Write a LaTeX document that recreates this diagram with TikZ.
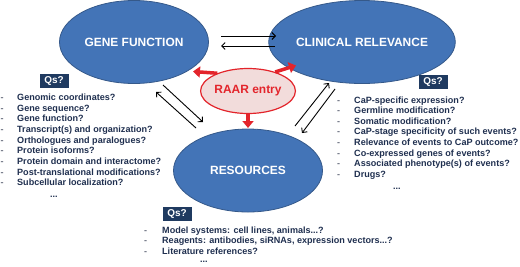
\documentclass[tikz,border=0pt]{standalone}
\usepackage{fontspec}
\setmainfont{Liberation Sans}
\usetikzlibrary{arrows.meta,shapes.geometric}
\definecolor{ellblue}{HTML}{4374B7}
\definecolor{ellborder}{HTML}{35598A}
\definecolor{qnavy}{HTML}{1F3A60}
\definecolor{listtxt}{HTML}{1F2F4F}
\definecolor{dashgray}{HTML}{6A7080}
\definecolor{raarred}{HTML}{E3242B}
\definecolor{raarfill}{HTML}{F2DCDB}
\begin{document}
\begin{tikzpicture}[x=1bp,y=-1bp,
  bigell/.style={ellipse, draw=ellborder, fill=ellblue, line width=0.8bp,
    minimum width=149bp, minimum height=83bp, inner sep=0pt, text=white,
    font=\fontsize{12}{14}\selectfont\bfseries},
  raarell/.style={ellipse, draw=raarred, fill=raarfill, line width=1.2bp,
    minimum width=78bp, minimum height=45bp, inner sep=0pt, text=raarred,
    font=\fontsize{12}{14}\selectfont\bfseries},
  qsbox/.style={fill=qnavy, text=white, minimum width=29bp, minimum height=14bp,
    inner sep=0pt, font=\fontsize{10}{12}\selectfont\bfseries},
  qlist/.style={inner sep=0pt, anchor=base west, text=listtxt,
    font=\fontsize{9.1}{10.7}\selectfont\bfseries},
  thinarrow/.style={line width=0.9bp, -{Straight Barb[length=3.5bp,width=7bp]}},
  redarrow/.style={line width=3.5bp, draw=raarred, -{Triangle[length=7bp,width=11bp]}}
]
\useasboundingbox (0,0) rectangle (520,266);
\newcommand{\dsh}{\textcolor{dashgray}{-}}

% main ellipses
\node[bigell] (gf) at (134,42) {GENE FUNCTION};
\node[bigell] (cr) at (362,42) {CLINICAL RELEVANCE};
\node[bigell] (res) at (248,170.5) {RESOURCES};
\node[raarell] (raar) at (248,91) {RAAR entry};

% red arrows
\coordinate (tipgf) at (193,71.5);
\coordinate (tipcr) at (296,65.5);
\coordinate (tipres) at (248,128);
\draw[redarrow] (raar.150) -- (tipgf);
\draw[redarrow] (raar.35) -- (tipcr);
\draw[redarrow] (raar.south) -- (tipres);

% thin double arrows
\coordinate (h1a) at (221,36); \coordinate (h1b) at (276,36);
\coordinate (h2a) at (275,46); \coordinate (h2b) at (221,46);
\draw[thinarrow] (h1a) -- (h1b);
\draw[thinarrow] (h2a) -- (h2b);
\coordinate (l1a) at (163,85); \coordinate (l1b) at (203,122);
\coordinate (l2a) at (196,128); \coordinate (l2b) at (156,92);
\draw[thinarrow] (l1a) -- (l1b);
\draw[thinarrow] (l2a) -- (l2b);
\coordinate (r1a) at (295,126); \coordinate (r1b) at (329,83);
\coordinate (r2a) at (335,89); \coordinate (r2b) at (302,133);
\draw[thinarrow] (r1a) -- (r1b);
\draw[thinarrow] (r2a) -- (r2b);

% Qs boxes
\node[qsbox] (qgf) at (54,81) {Qs?};
\node[qsbox] (qcr) at (433,82) {Qs?};
\node[qsbox] (qres) at (177,214) {Qs?};

% lists
\node[qlist] (gflist) at (0.5,100.5) {\begin{tabular}[t]{@{}p{16.5bp}@{}l@{}}
\dsh& Genomic coordinates?\\
\dsh& Gene sequence?\\
\dsh& Gene function?\\
\dsh& Transcript(s) and organization?\\
\dsh& Orthologues and paralogues?\\
\dsh& Protein isoforms?\\
\dsh& Protein domain and interactome?\\
\dsh& Post-translational modifications?\\
\dsh& Subcellular localization?\\[1bp]
 & \hspace{33bp}...
\end{tabular}};

\node[qlist] (crlist) at (337,103) {\begin{tabular}[t]{@{}p{17bp}@{}l@{}}
\dsh& CaP-specific expression?\\
\dsh& Germline modification?\\
\dsh& Somatic modification?\\
\dsh& CaP-stage specificity of such events?\\
\dsh& Relevance of events to CaP outcome?\\
\dsh& Co-expressed genes of events?\\
\dsh& Associated phenotype(s) of events?\\
\dsh& Drugs?\\[1bp]
 & \hspace{39bp}...
\end{tabular}};

\node[qlist] (reslist) at (144,233) {\begin{tabular}[t]{@{}p{18bp}@{}l@{}}
\dsh& Model systems: cell lines, animals...?\\
\dsh& Reagents: antibodies, siRNAs, expression vectors...?\\
\dsh& Literature references?\\[-2.5bp]
 & \hspace{38bp}...
\end{tabular}};
\end{tikzpicture}
\end{document}
